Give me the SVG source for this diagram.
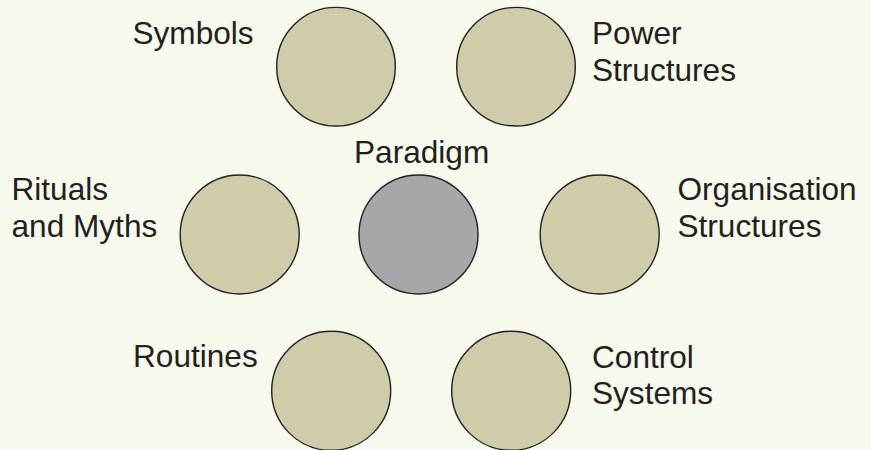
<svg xmlns="http://www.w3.org/2000/svg" width="871" height="450" viewBox="0 0 871 450">
  <style>
    .bg { fill: #f7f9ec; }
    .element { fill: #cecca9; stroke: #231f20; stroke-width: 1.4; }
    .core { fill: #a7a7aa; stroke: #231f20; stroke-width: 1.4; }
    .label { font-family: "Liberation Sans", Arial, Helvetica, sans-serif; font-size: 31.6px; fill: #231f20; }
  </style>
  <rect class="bg" x="0" y="0" width="871" height="450"/>

  <g id="connectors"></g>

  <g id="symbols">
    <circle class="element" cx="336" cy="66.7" r="59.3"/>
    <text class="label" x="132.5" y="43.5">Symbols</text>
  </g>

  <g id="power-structures">
    <circle class="element" cx="516" cy="66.7" r="59.3"/>
    <text class="label" x="592" y="44.3">Power</text>
    <text class="label" x="592" y="81">Structures</text>
  </g>

  <g id="rituals-and-myths">
    <circle class="element" cx="239.7" cy="234.5" r="59.5"/>
    <text class="label" x="11.5" y="200">Rituals</text>
    <text class="label" x="11.5" y="236.7">and Myths</text>
  </g>

  <g id="paradigm">
    <circle class="core" cx="418.5" cy="234.5" r="59.5"/>
    <text class="label" x="354" y="163.3">Paradigm</text>
  </g>

  <g id="organisation-structures">
    <circle class="element" cx="599.7" cy="234.5" r="59.5"/>
    <text class="label" x="677.5" y="200">Organisation</text>
    <text class="label" x="677.5" y="237.3">Structures</text>
  </g>

  <g id="routines">
    <circle class="element" cx="331.2" cy="390.8" r="59.5"/>
    <text class="label" x="133" y="367.3">Routines</text>
  </g>

  <g id="control-systems">
    <circle class="element" cx="511.2" cy="390.8" r="59.5"/>
    <text class="label" x="592" y="367.6">Control</text>
    <text class="label" x="592" y="404.3">Systems</text>
  </g>
</svg>
